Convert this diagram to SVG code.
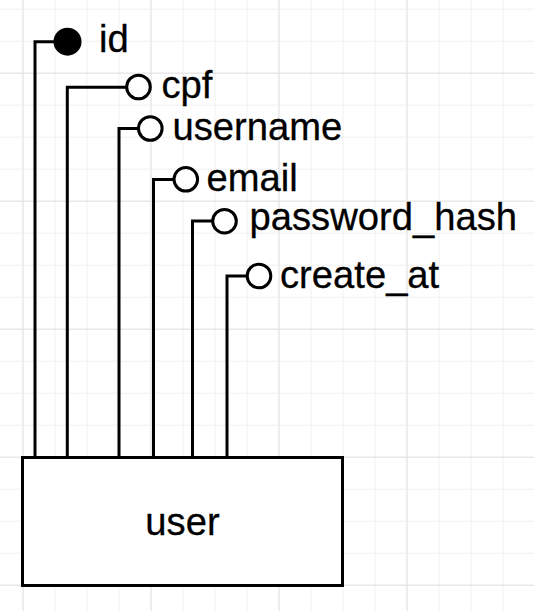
<svg xmlns="http://www.w3.org/2000/svg" width="534" height="611" viewBox="0 0 534 611">
  <defs>
    <pattern id="minor" patternUnits="userSpaceOnUse" x="22.5" y="8.7" width="32" height="32">
      <path d="M0.5 0 V32 M0 0.5 H32" fill="none" stroke="#f0f0f0" stroke-width="1"/>
    </pattern>
    <pattern id="major" patternUnits="userSpaceOnUse" x="22.5" y="72.7" width="128" height="128">
      <path d="M0.5 0 V128 M0 0.5 H128" fill="none" stroke="#e2e2e2" stroke-width="1"/>
    </pattern>
  </defs>
  <style>
    .lbl { font-family: "Liberation Sans", Arial, Helvetica, sans-serif; font-size: 38.2px; fill: #000000; stroke: #000000; stroke-width: 0.3; }
    .conn { fill: none; stroke: #000000; stroke-width: 3; }
    .oval { fill: #ffffff; stroke: #000000; stroke-width: 3; }
    .ovalFilled { fill: #000000; stroke: #000000; stroke-width: 3; }
    .entity { fill: #ffffff; stroke: #000000; stroke-width: 3; }
  </style>
  <rect x="0" y="0" width="534" height="611" fill="#ffffff"/>
  <rect x="0" y="0" width="534" height="611" fill="url(#minor)"/>
  <rect x="0" y="0" width="534" height="611" fill="url(#major)"/>

  <g id="connectors">
    <path class="conn" d="M35 457.5 V41.7 H60"/>
    <path class="conn" d="M67.3 457.5 V87.3 H127"/>
    <path class="conn" d="M119 457.5 V128.4 H139"/>
    <path class="conn" d="M153.5 457.5 V179.4 H174"/>
    <path class="conn" d="M192.5 457.5 V221 H213"/>
    <path class="conn" d="M227 457.5 V276 H247"/>
  </g>

  <g id="user">
    <rect class="entity" x="22.5" y="457.5" width="320" height="128"/>
    <text class="lbl" x="182.5" y="535" text-anchor="middle">user</text>
  </g>

  <g id="attr-id">
    <circle class="ovalFilled" cx="67.5" cy="41.7" r="12.5"/>
    <text class="lbl" x="99" y="52">id</text>
  </g>
  <g id="attr-cpf">
    <circle class="oval" cx="138.5" cy="87" r="11.8"/>
    <text class="lbl" x="161.5" y="98">cpf</text>
  </g>
  <g id="attr-username">
    <circle class="oval" cx="150.3" cy="128.5" r="11.8"/>
    <text class="lbl" x="172.5" y="140">username</text>
  </g>
  <g id="attr-email">
    <circle class="oval" cx="185.8" cy="179.3" r="11.8"/>
    <text class="lbl" x="206.5" y="190.5">email</text>
  </g>
  <g id="attr-password_hash">
    <circle class="oval" cx="224.5" cy="221.2" r="11.8"/>
    <text class="lbl" x="249.5" y="230">password_hash</text>
  </g>
  <g id="attr-create_at">
    <circle class="oval" cx="259" cy="276" r="11.8"/>
    <text class="lbl" x="280" y="288.3">create_at</text>
  </g>
</svg>
